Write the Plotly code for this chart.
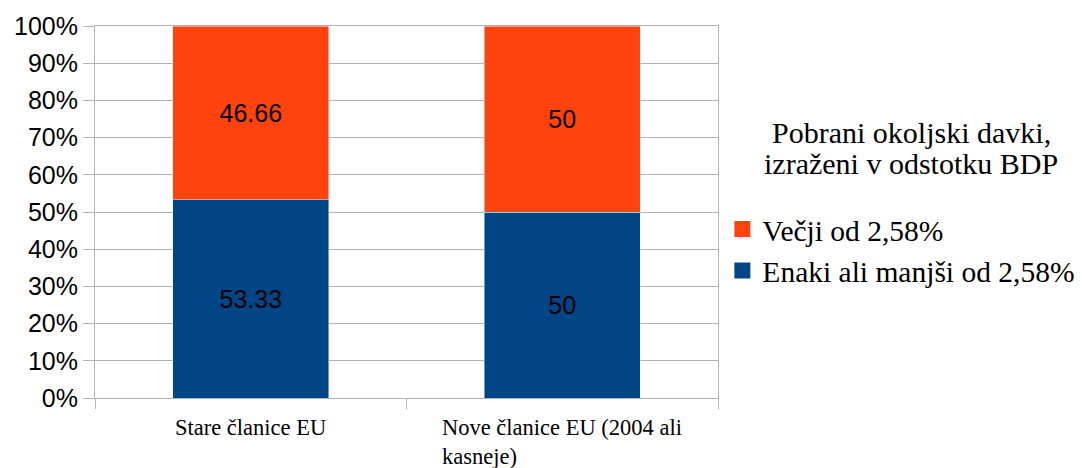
import plotly.graph_objects as go

categories = ["Stare članice EU", "Nove članice EU (2004 ali<br>kasneje)"]
series_names = ["Enaki ali manjši od 2,58%", "Večji od 2,58%"]
low_values = [53.33, 50]
high_values = [46.66, 50]
legend_title_lines = ["Pobrani okoljski davki,", "izraženi v odstotku BDP"]

BLUE = "#004586"
ORANGE = "#ff420e"
GRID = "#b3b3b3"
SANS = "Liberation Sans, Arial, sans-serif"
SERIF = "Liberation Serif, Times New Roman, serif"

fig = go.Figure()
fig.add_trace(go.Bar(
    x=categories, y=low_values, name=series_names[0], marker_color=BLUE,
    text=low_values, texttemplate="%{text}", textposition="inside",
    insidetextanchor="middle", textangle=0, constraintext="none",
    textfont=dict(family=SANS, size=25, color="black"), showlegend=False,
))
fig.add_trace(go.Bar(
    x=categories, y=high_values, name=series_names[1], marker_color=ORANGE,
    text=high_values, texttemplate="%{text}", textposition="inside",
    insidetextanchor="middle", textangle=0, constraintext="none",
    textfont=dict(family=SANS, size=25, color="black"), showlegend=False,
))
# legend entries (legend only)
fig.add_trace(go.Scatter(x=[None], y=[None], mode="markers", name=series_names[1],
                         marker=dict(symbol="square", size=16, color=ORANGE)))
fig.add_trace(go.Scatter(x=[None], y=[None], mode="markers", name=series_names[0],
                         marker=dict(symbol="square", size=16, color=BLUE)))

for cat in categories:
    fig.add_annotation(x=cat, xref="x", y=0, yref="paper", yanchor="top", yshift=-15,
                       text=cat, showarrow=False, align="left",
                       font=dict(family=SERIF, size=22.5, color="black"))

# legend title lines
for i, line in enumerate(legend_title_lines):
    fig.add_annotation(x=1.31, xref="paper", y=0.715 - i * 0.0833, yref="paper",
                       xanchor="center", yanchor="middle", text=line, showarrow=False,
                       font=dict(family=SERIF, size=30, color="black"))

fig.update_layout(
    width=1082, height=468,
    margin=dict(l=95, r=364, t=26, b=70, autoexpand=False),
    paper_bgcolor="white", plot_bgcolor="white",
    barmode="stack", barnorm="percent", bargap=0.5,
    legend=dict(
        x=1.007, xanchor="left", y=0.398, yanchor="middle",
        font=dict(family=SERIF, size=29.5, color="black"),
        traceorder="normal", tracegroupgap=0, itemwidth=30,
    ),
    showlegend=True,
)
fig.update_xaxes(
    type="category", showticklabels=False, tickson="boundaries",
    ticks="outside", ticklen=10, tickcolor=GRID,
    showline=True, linecolor=GRID, mirror=True, showgrid=False,
)
fig.update_yaxes(
    range=[0, 100], dtick=10, ticksuffix="%",
    ticks="outside", ticklen=11, tickcolor=GRID,
    showgrid=True, gridcolor=GRID, showline=True, linecolor=GRID, mirror=True,
    tickfont=dict(family=SANS, size=25, color="black"), zeroline=False,
)

fig.write_html("out.html")
